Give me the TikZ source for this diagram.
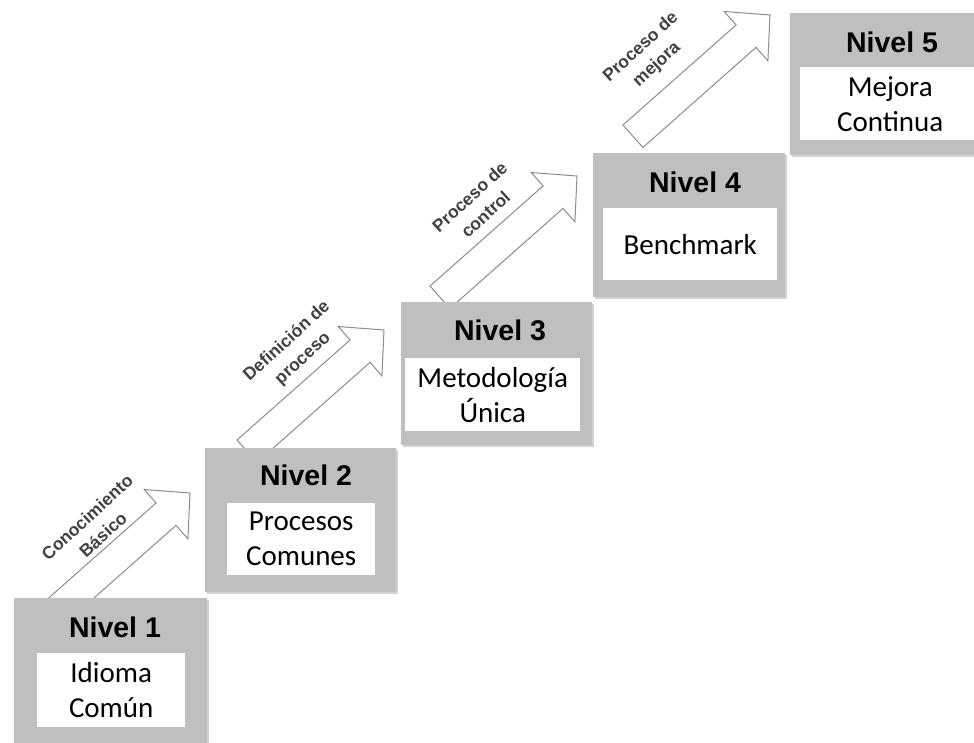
\documentclass[tikz,border=0pt]{standalone}
\usepackage{fontspec}
\setmainfont{Carlito}
\newfontfamily\headfont{Liberation Sans}
\usetikzlibrary{shadows}

\definecolor{boxgray}{HTML}{BFBFBF}
\definecolor{arrowline}{HTML}{8C8C8C}
\definecolor{labelgray}{HTML}{404040}

\tikzset{
  levelbox/.style={fill=boxgray, draw=none, inner sep=0pt, anchor=north west,
    minimum height=144pt,
    drop shadow={shadow xshift=2pt, shadow yshift=-2pt, opacity=0.25, fill=black!70}},
  leveltitle/.style={anchor=base, inner sep=0pt,
    font=\headfont\bfseries\fontsize{28.5}{32}\selectfont},
  leveltext/.style={fill=white, draw=none, inner sep=0pt, anchor=north west,
    align=center, font=\fontsize{29}{35}\selectfont},
  steplabel/.style={inner sep=0pt, align=center, rotate=42.5, text=labelgray,
    font=\headfont\bfseries\fontsize{17.5}{23.5}\selectfont},
  arrowstyle/.style={draw=arrowline, fill=white, line width=1pt, line join=miter},
  steparrow/.pic={
    \path[arrowstyle] (0,0) -- (-45.8,-3.5) -- (-33.9,9.96) -- (-147,110)
      -- (-127.1,132.5) -- (-14,32.4) -- (-2.1,45.9) -- cycle;
  }
}

\begin{document}
\begin{tikzpicture}[x=1pt, y=-1pt]
  \useasboundingbox (0,0) rectangle (974,742);

  % tips of the block arrows between consecutive levels
  \coordinate (t1) at (190,493);
  \coordinate (t2) at (384,330);
  \coordinate (t3) at (577,176);
  \coordinate (t4) at (770,15);
  \foreach \t in {t1,t2,t3,t4} { \pic at (\t) {steparrow}; }

  % arrow captions
  \node[steplabel] (l1) at (95,526) {Conocimiento\\Básico};
  \node[steplabel] (l2) at (295,350) {Definición de\\proceso};
  \node[steplabel] (l3) at (477.5,205.5) {Proceso de\\control};
  \node[steplabel] (l4) at (649,56) {Proceso de\\mejora};

  % level 1
  \node[levelbox, minimum width=193pt, minimum height=152pt] (n1) at (14,598) {};
  \node[leveltitle] (h1) at (115,637) {Nivel 1};
  \node[leveltext, minimum width=148pt, minimum height=74pt] (w1) at (37,653) {Idioma\\Común};

  % level 2
  \node[levelbox, minimum width=191pt] (n2) at (205,448) {};
  \node[leveltitle] (h2) at (306,485) {Nivel 2};
  \node[leveltext, minimum width=148pt, minimum height=72pt] (w2) at (227,503) {Procesos\\Comunes};

  % level 3
  \node[levelbox, minimum width=191pt, minimum height=143pt] (n3) at (401,302) {};
  \node[leveltitle] (h3) at (500,340) {Nivel 3};
  \node[leveltext, minimum width=175pt, minimum height=73pt] (w3) at (405,358) {Metodología\\Única};

  % level 4
  \node[levelbox, minimum width=192pt] (n4) at (593,153) {};
  \node[leveltitle] (h4) at (695,192) {Nivel 4};
  \node[leveltext, minimum width=174pt, minimum height=72pt] (w4) at (603,208) {Benchmark};

  % level 5
  \node[levelbox, minimum width=195pt, minimum height=142pt] (n5) at (790,13) {};
  \node[leveltitle] (h5) at (892,52) {Nivel 5};
  \node[leveltext, minimum width=180pt, minimum height=73pt] (w5) at (800,67) {Mejora\\Continua};
\end{tikzpicture}
\end{document}
